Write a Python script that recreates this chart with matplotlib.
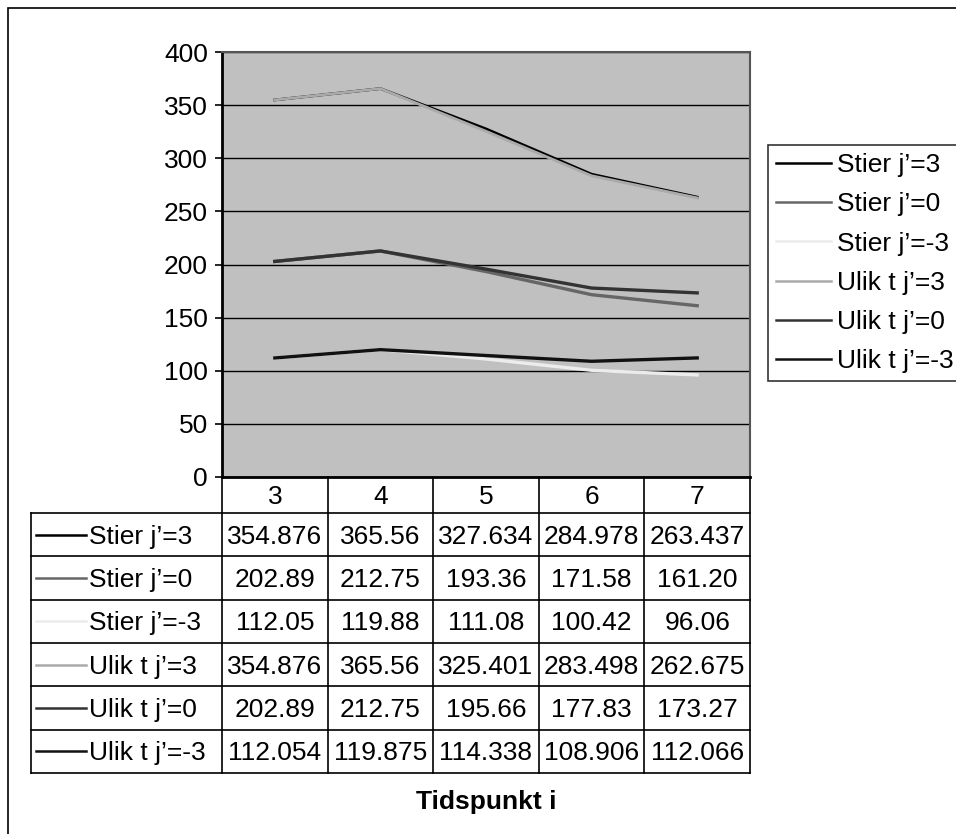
import matplotlib.pyplot as plt
from matplotlib.lines import Line2D
from matplotlib.patches import Rectangle

plt.rcParams['font.family'] = ['Liberation Sans', 'DejaVu Sans']

tidspunkt = [3, 4, 5, 6, 7]
serier = ["Stier j\u2019=3", "Stier j\u2019=0", "Stier j\u2019=-3",
          "Ulik t j\u2019=3", "Ulik t j\u2019=0", "Ulik t j\u2019=-3"]
stier_p3 = [354.876, 365.56, 327.634, 284.978, 263.437]
stier_0 = [202.89, 212.75, 193.36, 171.58, 161.20]
stier_m3 = [112.05, 119.88, 111.08, 100.42, 96.06]
ulik_p3 = [354.876, 365.56, 325.401, 283.498, 262.675]
ulik_0 = [202.89, 212.75, 195.66, 177.83, 173.27]
ulik_m3 = [112.054, 119.875, 114.338, 108.906, 112.066]
# teksten i tabellen, slik den står i regnearket
tabell_tekst = [
    ["354.876", "365.56", "327.634", "284.978", "263.437"],
    ["202.89", "212.75", "193.36", "171.58", "161.20"],
    ["112.05", "119.88", "111.08", "100.42", "96.06"],
    ["354.876", "365.56", "325.401", "283.498", "262.675"],
    ["202.89", "212.75", "195.66", "177.83", "173.27"],
    ["112.054", "119.875", "114.338", "108.906", "112.066"],
]
verdier = [stier_p3, stier_0, stier_m3, ulik_p3, ulik_0, ulik_m3]
farger = ["#000000", "#666666", "#ececec", "#aaaaaa", "#333333", "#111111"]
bredder = [2.0, 2.4, 2.4, 2.0, 2.4, 2.4]

W, H = 956, 834
fig = plt.figure(figsize=(W / 100, H / 100), dpi=100)
fs = 19

def fx(px):
    return px / W

def fy(py):
    return 1 - py / H

# ramme rundt hele diagrammet
fig.patches.append(Rectangle((fx(8), fy(900)), fx(1000), fy(8) - fy(900),
                             transform=fig.transFigure, fill=False,
                             edgecolor="black", linewidth=1.2))

# plottområdet
x0, x1, y0, y1 = 222, 750, 52, 477
ax = fig.add_axes([fx(x0), fy(y1), fx(x1 - x0), fy(y0) - fy(y1)])
ax.set_facecolor("#c0c0c0")
pos = list(range(1, len(tidspunkt) + 1))
for navn, v, c, lw in zip(serier, verdier, farger, bredder):
    ax.plot(pos, v, color=c, linewidth=lw, label=navn, solid_joinstyle="miter")
ax.set_xlim(0.5, len(tidspunkt) + 0.5)
ax.set_ylim(0, 400)
ax.set_yticks(range(0, 401, 50))
ax.yaxis.grid(True, color="black", linewidth=1)
ax.set_axisbelow(True)
ax.set_xticks([])
ax.tick_params(axis="y", labelsize=fs, length=5, width=1.2, pad=5)
for s in ["top", "right"]:
    ax.spines[s].set_color("#555555")
    ax.spines[s].set_linewidth(1.5)
ax.spines["left"].set_linewidth(2)
ax.spines["bottom"].set_linewidth(2)

# tabell under plottet
tab = fig.add_axes([0, 0, 1, 1], facecolor="none")
tab.set_xlim(0, W)
tab.set_ylim(H, 0)
tab.axis("off")
kol = [x0 + i * (x1 - x0) / len(tidspunkt) for i in range(len(tidspunkt) + 1)]
rad0, radh = 513, 43.3
rad = [rad0 + i * radh for i in range(len(serier) + 1)]
venstre = 31
lk = dict(color="black", linewidth=1.2)
for x in kol:
    tab.plot([x, x], [y1, rad[-1]], **lk)
tab.plot([venstre, venstre], [rad0, rad[-1]], **lk)
for y in rad:
    tab.plot([venstre, x1], [y, y], **lk)
for i, t in enumerate(tidspunkt):
    tab.text((kol[i] + kol[i + 1]) / 2, (y1 + rad0) / 2 + 2, str(t),
             ha="center", va="center", fontsize=fs)
for r, (navn, c) in enumerate(zip(serier, farger)):
    ym = (rad[r] + rad[r + 1]) / 2
    tab.plot([36, 86], [ym, ym], color=c, linewidth=1.8)
    tab.text(89, ym + 2, navn, ha="left", va="center", fontsize=fs)
    for i in range(len(tidspunkt)):
        tab.text((kol[i] + kol[i + 1]) / 2, ym + 2, tabell_tekst[r][i],
                 ha="center", va="center", fontsize=fs)

fig.text(fx(486), fy(802), "Tidspunkt i", ha="center", va="center",
         fontsize=fs, fontweight="bold")

# forklaring til høyre
handles = [Line2D([], [], color=c, linewidth=1.8) for c in farger]
leg = fig.legend(handles, serier, loc="upper left",
                 bbox_to_anchor=(fx(768), fy(145)), fontsize=fs,
                 frameon=True, fancybox=False, edgecolor="black",
                 handlelength=2.1, handletextpad=0.2, labelspacing=0.58,
                 borderpad=0.3, borderaxespad=0)
leg.get_frame().set_linewidth(1.2)

fig.savefig("out.png", dpi=100)
